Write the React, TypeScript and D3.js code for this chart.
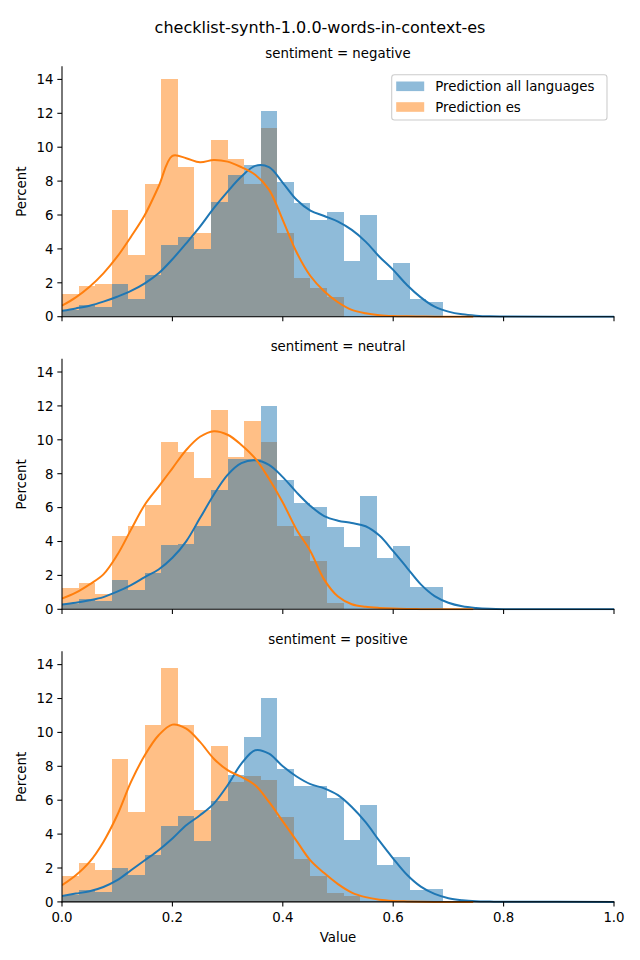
import React from "react";
import * as d3 from "d3";

const TITLE = "checklist-synth-1.0.0-words-in-context-es";
const SENTIMENTS = ["negative", "neutral", "positive"];
const SERIES = ["Prediction all languages", "Prediction es"];
const BIN_WIDTH = 0.03;
const X_TICKS = [0, 0.2, 0.4, 0.6, 0.8, 1.0];
const Y_TICKS = [0, 2, 4, 6, 8, 10, 12, 14];

// histogram: percent per bin (bins of width 0.03 starting at 0)
const allNegative = [0.4, 0.69, 0.59, 1.93, 1.06, 2.46, 4.23, 4.72, 4.0, 6.79, 8.37, 8.96, 12.15, 7.97, 6.73, 5.71, 6.16, 3.29, 6.0, 2.17, 3.19, 1.02, 0.87];
const esNegative = [1.32, 1.81, 1.93, 6.3, 3.64, 7.83, 14.04, 8.86, 4.94, 10.43, 9.31, 7.85, 11.16, 4.96, 2.3, 1.69, 1.14, 0, 0, 0, 0, 0, 0];
const allNeutral = [0.33, 0.59, 0.49, 1.71, 1.12, 2.12, 3.82, 3.88, 4.94, 7.05, 8.87, 8.87, 12.0, 7.65, 6.27, 6.06, 4.84, 3.66, 6.7, 3.0, 3.76, 1.33, 1.33];
const esNeutral = [1.27, 1.57, 0.92, 4.35, 4.94, 6.18, 9.86, 9.29, 7.76, 11.76, 9.0, 11.1, 9.86, 4.94, 4.35, 2.84, 0.39, 0, 0, 0, 0, 0, 0];
const allPositive = [0.43, 0.69, 0.59, 2.0, 1.57, 2.75, 4.46, 5.05, 3.58, 5.96, 7.51, 9.73, 12.03, 7.83, 6.84, 6.84, 6.13, 3.64, 5.74, 2.16, 2.65, 0.69, 0.79];
const esPositive = [1.53, 2.3, 1.87, 8.42, 5.31, 10.42, 13.78, 10.42, 5.41, 9.18, 7.08, 7.41, 7.18, 5.01, 2.52, 1.53, 0.53, 0.35, 0, 0, 0, 0, 0];

// KDE curves (percent), sampled every 0.025 starting at 0
const KDE_STEP = 0.025;
const kdeAllNegative = [0.35, 0.49, 0.65, 0.89, 1.18, 1.52, 1.97, 2.56, 3.39, 4.33, 5.31, 6.4, 7.38, 8.27, 8.9, 8.82, 7.9, 6.9, 6.26, 5.94, 5.61, 5.12, 4.43, 3.54, 2.76, 1.87, 1.14, 0.59, 0.3, 0.14, 0.06, 0.02, 0.01];
const kdeEsNegative = [0.65, 1.14, 1.77, 2.56, 3.54, 4.72, 6.0, 7.68, 9.49, 9.35, 9.11, 9.25, 9.15, 8.82, 8.37, 7.5, 5.7, 3.8, 2.4, 1.5, 0.85, 0.4, 0.2, 0.09, 0.04, 0.02, 0.01, 0, 0, 0];
const kdeAllNeutral = [0.29, 0.39, 0.53, 0.72, 1.04, 1.43, 1.9, 2.35, 3.04, 4.01, 5.38, 6.76, 7.93, 8.62, 8.79, 8.52, 7.8, 6.9, 6.1, 5.5, 5.23, 5.09, 4.9, 4.35, 3.43, 2.45, 1.47, 0.78, 0.39, 0.18, 0.08, 0.03, 0.01];
const kdeEsNeutral = [0.63, 0.98, 1.47, 2.06, 3.2, 4.7, 6.17, 7.24, 8.32, 9.4, 10.18, 10.51, 10.3, 9.7, 8.9, 7.7, 6.3, 4.7, 3.43, 1.75, 0.75, 0.3, 0.15, 0.08, 0.04, 0.02, 0.01, 0, 0, 0];
const kdeAllPositive = [0.35, 0.49, 0.63, 0.88, 1.28, 1.87, 2.46, 3.05, 3.74, 4.52, 5.11, 5.8, 6.88, 8.16, 8.95, 8.75, 8.0, 7.4, 6.95, 6.7, 6.3, 5.6, 4.7, 3.6, 2.56, 1.6, 0.9, 0.47, 0.22, 0.1, 0.04, 0.02, 0.01];
const kdeEsPositive = [0.98, 1.57, 2.36, 3.54, 5.11, 7.08, 8.65, 9.83, 10.46, 10.22, 9.44, 8.45, 7.77, 7.37, 6.88, 5.9, 4.75, 3.6, 2.45, 1.7, 1.05, 0.55, 0.28, 0.13, 0.06, 0.03, 0.01, 0, 0, 0];
const KDE_END_ALL = 1.0;
const KDE_END_ES = 0.745;

const ALL_SERIES = [allNegative, allNeutral, allPositive];
const ES_SERIES = [esNegative, esNeutral, esPositive];
const KDE_ALL = [kdeAllNegative, kdeAllNeutral, kdeAllPositive];
const KDE_ES = [kdeEsNegative, kdeEsNeutral, kdeEsPositive];

const BLUE = "#1f77b4";
const ORANGE = "#ff7f0e";
const BLUE_LIGHT = "#8fbbd9";
const ORANGE_LIGHT = "#ffbf86";
const OVERLAP = "#8e999b";

const W = 640;
const H = 960;
const LEFT = 62;
const RIGHT = 614;
const TOP0 = 66.7;
const STEP = 292.6;
const PH = 250;
const FONT = "DejaVu Sans, sans-serif";

function curvePoints(vals: number[], end: number): [number, number][] {
  const pts = vals.map((v, i) => [i * KDE_STEP, v] as [number, number]);
  const last = pts[pts.length - 1][0];
  if (end > last + 1e-9) pts.push([end, 0]);
  return pts;
}

function Panel({ idx }: { idx: number }) {
  const top = TOP0 + idx * STEP;
  const x = d3.scaleLinear().domain([0, 1]).range([LEFT, RIGHT]);
  const y = d3.scaleLinear().domain([0, 14.75]).range([top + PH, top]);
  const a = ALL_SERIES[idx];
  const e = ES_SERIES[idx];
  const line = d3
    .line<[number, number]>()
    .x((d) => x(d[0]))
    .y((d) => y(Math.max(0, d[1])))
    .curve(d3.curveCatmullRom.alpha(0.5));
  const clipId = `clip${idx}`;
  const bottom = top + PH;
  return (
    <g>
      <defs>
        <clipPath id={clipId}>
          <rect x={LEFT} y={top} width={RIGHT - LEFT} height={PH + 1} />
        </clipPath>
      </defs>
      <g shapeRendering="crispEdges">
        {a.map((va, i) => {
          const ve = e[i];
          const lo = Math.min(va, ve);
          const hi = Math.max(va, ve);
          const x0 = x(i * BIN_WIDTH);
          const x1 = x((i + 1) * BIN_WIDTH);
          return (
            <g key={i}>
              {lo > 0 && (
                <rect x={x0} width={x1 - x0} y={y(lo)} height={y(0) - y(lo)} fill={OVERLAP} />
              )}
              {hi > lo && (
                <rect
                  x={x0}
                  width={x1 - x0}
                  y={y(hi)}
                  height={y(lo) - y(hi)}
                  fill={va >= ve ? BLUE_LIGHT : ORANGE_LIGHT}
                />
              )}
            </g>
          );
        })}
      </g>
      <g clipPath={`url(#${clipId})`}>
        <path d={line(curvePoints(KDE_ALL[idx], KDE_END_ALL)) || ""} fill="none" stroke={BLUE} strokeWidth={2} />
        <path d={line(curvePoints(KDE_ES[idx], KDE_END_ES)) || ""} fill="none" stroke={ORANGE} strokeWidth={2} />
      </g>
      <line x1={LEFT} x2={LEFT} y1={top} y2={bottom} stroke="black" strokeWidth={1.07} strokeLinecap="square" />
      <line x1={LEFT} x2={RIGHT} y1={bottom} y2={bottom} stroke="black" strokeWidth={1.07} strokeLinecap="square" />
      {Y_TICKS.map((t) => (
        <g key={t}>
          <line x1={LEFT - 4.67} x2={LEFT} y1={y(t)} y2={y(t)} stroke="black" strokeWidth={1.07} />
          <text x={LEFT - 8.5} y={y(t)} dy="0.36em" textAnchor="end" fontSize={13.33} fontFamily={FONT} fill="#000">
            {t}
          </text>
        </g>
      ))}
      {X_TICKS.map((t) => (
        <g key={t}>
          <line x1={x(t)} x2={x(t)} y1={bottom} y2={bottom + 4.67} stroke="black" strokeWidth={1.07} />
          {idx === 2 && (
            <text x={x(t)} y={bottom + 20.3} textAnchor="middle" fontSize={13.33} fontFamily={FONT} fill="#000">
              {t.toFixed(1)}
            </text>
          )}
        </g>
      ))}
      <text
        transform={`translate(${25.8},${top + PH / 2}) rotate(-90)`}
        textAnchor="middle"
        fontSize={13.33}
        fontFamily={FONT}
        fill="#000"
      >
        Percent
      </text>
      <text x={(LEFT + RIGHT) / 2} y={top - 8.4} textAnchor="middle" fontSize={13.33} fontFamily={FONT} fill="#000">
        {`sentiment = ${SENTIMENTS[idx]}`}
      </text>
    </g>
  );
}

function Legend() {
  const lx = 391.7;
  const ly = 74.7;
  const colors = [BLUE_LIGHT, ORANGE_LIGHT];
  return (
    <g>
      <rect x={lx} y={ly} width={215.3} height={45.3} rx={2.8} fill="white" fillOpacity={0.8} stroke="#cccccc" strokeWidth={1.07} />
      {SERIES.map((s, i) => (
        <g key={s}>
          <rect x={lx + 4.5} y={ly + 6.8 + i * 20.7} width={28} height={9.6} fill={colors[i]} />
          <text x={lx + 43.5} y={ly + 16.2 + i * 20.7} fontSize={13.33} fontFamily={FONT} fill="#000">
            {s}
          </text>
        </g>
      ))}
    </g>
  );
}

export default function App() {
  return (
    <svg width={W} height={H} style={{ display: "block", position: "absolute", left: 0, top: 0, background: "white" }}>
      <rect x={0} y={0} width={W} height={H} fill="white" />
      <text x={W / 2} y={32.5} textAnchor="middle" fontSize={16} fontFamily={FONT} fill="#000">
        {TITLE}
      </text>
      {SENTIMENTS.map((_, i) => (
        <Panel key={i} idx={i} />
      ))}
      <Legend />
      <text x={(LEFT + RIGHT) / 2} y={941.5} textAnchor="middle" fontSize={13.33} fontFamily={FONT} fill="#000">
        Value
      </text>
    </svg>
  );
}
